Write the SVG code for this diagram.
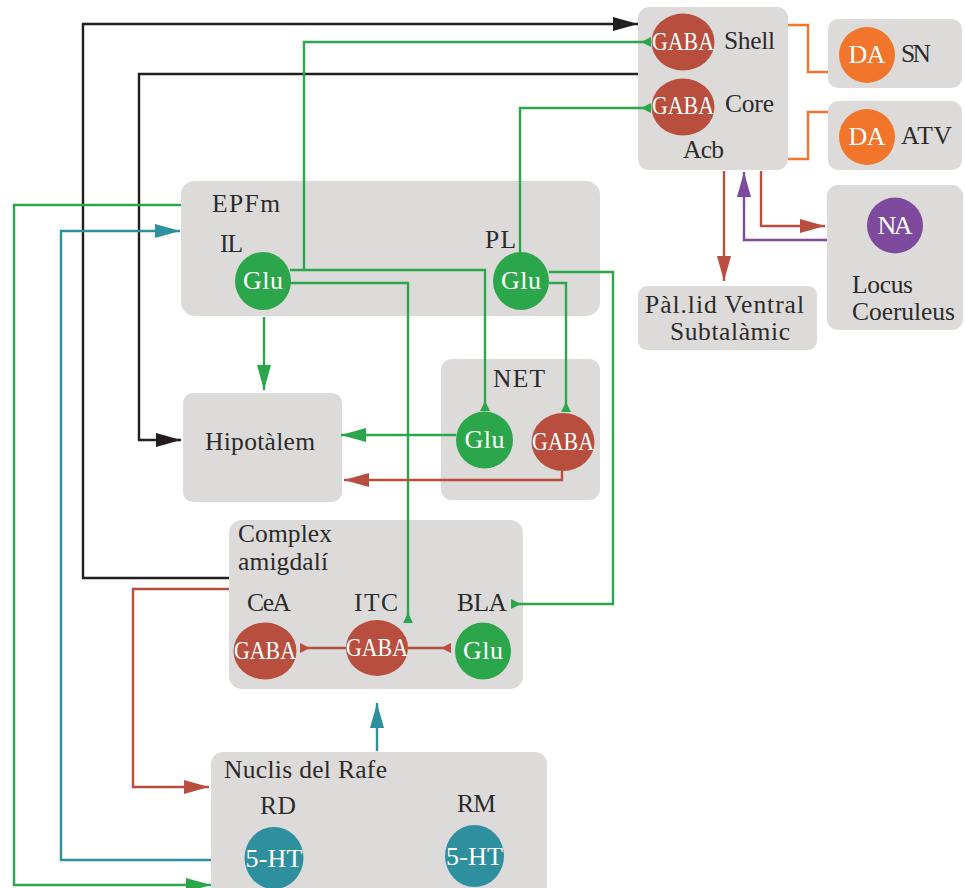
<svg xmlns="http://www.w3.org/2000/svg" width="965" height="888" viewBox="0 0 965 888">
<defs>
<style>
.box{fill:#dddbda}
.lbl{font-family:"Liberation Serif",serif;font-size:25.5px;fill:#2b2b2b}
.ct{font-family:"Liberation Serif",serif;font-size:26px;fill:#ffffff;text-anchor:middle}
.gaba{fill:#b84f3e}
.glu{fill:#2ca64a}
.da{fill:#f1752a}
.na{fill:#7d4a9d}
.ht{fill:#2e909e}
.c{fill:none;stroke-width:2.4}
.k{stroke:#231f20}
.g{stroke:#2ca64a}
.r{stroke:#b84f3e}
.t{stroke:#2e909e}
.o{stroke:#f1752a}
.p{stroke:#7d4a9d}
</style>
<marker id="ak" markerUnits="userSpaceOnUse" markerWidth="30" markerHeight="20" viewBox="-26 -10 30 20" refX="0" refY="0" orient="auto"><polygon points="0,0 -25,-7 -25,7" fill="#231f20"/></marker>
<marker id="ag" markerUnits="userSpaceOnUse" markerWidth="30" markerHeight="20" viewBox="-26 -10 30 20" refX="0" refY="0" orient="auto"><polygon points="0,0 -25,-7 -25,7" fill="#2ca64a"/></marker>
<marker id="ar" markerUnits="userSpaceOnUse" markerWidth="30" markerHeight="20" viewBox="-26 -10 30 20" refX="0" refY="0" orient="auto"><polygon points="0,0 -25,-7 -25,7" fill="#b84f3e"/></marker>
<marker id="at" markerUnits="userSpaceOnUse" markerWidth="30" markerHeight="20" viewBox="-26 -10 30 20" refX="0" refY="0" orient="auto"><polygon points="0,0 -25,-7 -25,7" fill="#2e909e"/></marker>
<marker id="ap" markerUnits="userSpaceOnUse" markerWidth="30" markerHeight="20" viewBox="-26 -10 30 20" refX="0" refY="0" orient="auto"><polygon points="0,0 -25,-7 -25,7" fill="#7d4a9d"/></marker>
<marker id="rg" markerUnits="userSpaceOnUse" markerWidth="14" markerHeight="14" viewBox="-12 -7 14 14" refX="0" refY="0" orient="auto"><polygon points="0,-5 0,5 -10,0" fill="#2ca64a"/></marker>
<marker id="rr" markerUnits="userSpaceOnUse" markerWidth="14" markerHeight="14" viewBox="-12 -7 14 14" refX="0" refY="0" orient="auto"><polygon points="0,-5 0,5 -10,0" fill="#b84f3e"/></marker>
</defs>

<g id="acb">
<rect class="box" x="638" y="7" width="150" height="163" rx="11"/>
<ellipse class="gaba" cx="683" cy="42" rx="31.5" ry="28.5"/>
<text class="ct" x="683" y="50" font-size="23" textLength="62" lengthAdjust="spacingAndGlyphs">GABA</text>
<text class="lbl" x="724" y="49" textLength="51">Shell</text>
<ellipse class="gaba" cx="683" cy="107" rx="31.5" ry="28.5"/>
<text class="ct" x="683" y="114" font-size="23" textLength="62" lengthAdjust="spacingAndGlyphs">GABA</text>
<text class="lbl" x="725" y="112" textLength="49">Core</text>
<text class="lbl" x="683" y="158" textLength="41">Acb</text>
</g>

<g id="sn">
<rect class="box" x="828" y="19" width="134" height="69" rx="10"/>
<circle class="da" cx="867" cy="55" r="28"/>
<text class="ct" x="867" y="63" textLength="37">DA</text>
<text class="lbl" x="901" y="62" textLength="30">SN</text>
</g>

<g id="atv">
<rect class="box" x="828" y="101" width="134" height="69" rx="10"/>
<circle class="da" cx="867" cy="137" r="28"/>
<text class="ct" x="867" y="145" textLength="37">DA</text>
<text class="lbl" x="901" y="144" textLength="51">ATV</text>
</g>

<g id="lc">
<rect class="box" x="827" y="185" width="136" height="145" rx="11"/>
<circle class="na" cx="895" cy="225.5" r="28"/>
<text class="ct" x="895" y="234" textLength="35">NA</text>
<text class="lbl" x="852" y="293" textLength="61">Locus</text>
<text class="lbl" x="852" y="320" textLength="103">Coeruleus</text>
</g>

<g id="pallid">
<rect class="box" x="638" y="286" width="179" height="64" rx="9"/>
<text class="lbl" x="645" y="313" textLength="159">Pàl.lid Ventral</text>
<text class="lbl" x="670" y="340" textLength="120">Subtalàmic</text>
</g>

<g id="epfm">
<rect class="box" x="181" y="181" width="419" height="135" rx="14"/>
<text class="lbl" x="212" y="212" textLength="68">EPFm</text>
<text class="lbl" x="220" y="252" textLength="23">IL</text>
<text class="lbl" x="485" y="248" textLength="31">PL</text>
<ellipse class="glu" cx="263" cy="281" rx="28" ry="29"/>
<text class="ct" x="263" y="289" textLength="40">Glu</text>
<ellipse class="glu" cx="521" cy="281" rx="28" ry="29"/>
<text class="ct" x="521" y="289" textLength="40">Glu</text>
</g>

<g id="hipotalem">
<rect class="box" x="183" y="393" width="159" height="109" rx="10"/>
<text class="lbl" x="205" y="450" textLength="110">Hipotàlem</text>
</g>

<g id="net">
<rect class="box" x="441" y="359" width="159" height="141" rx="11"/>
<text class="lbl" x="493" y="387" textLength="52">NET</text>
<ellipse class="glu" cx="484.5" cy="440" rx="28.5" ry="28.5"/>
<text class="ct" x="484.5" y="448" textLength="40">Glu</text>
<ellipse class="gaba" cx="563" cy="442" rx="31.5" ry="29"/>
<text class="ct" x="563" y="450" font-size="23" textLength="62" lengthAdjust="spacingAndGlyphs">GABA</text>
</g>

<g id="amigdala">
<rect class="box" x="229" y="520" width="294" height="169" rx="13"/>
<text class="lbl" x="238" y="542" textLength="94">Complex</text>
<text class="lbl" x="238" y="570" textLength="90">amigdalí</text>
<text class="lbl" x="247" y="611" textLength="44">CeA</text>
<text class="lbl" x="354" y="611" textLength="44">ITC</text>
<text class="lbl" x="457" y="611" textLength="50">BLA</text>
<ellipse class="gaba" cx="265" cy="651" rx="31.5" ry="28.5"/>
<text class="ct" x="265" y="659" font-size="23" textLength="62" lengthAdjust="spacingAndGlyphs">GABA</text>
<ellipse class="gaba" cx="377" cy="648" rx="31" ry="28"/>
<text class="ct" x="377" y="656" font-size="23" textLength="62" lengthAdjust="spacingAndGlyphs">GABA</text>
<ellipse class="glu" cx="483" cy="651" rx="28" ry="28.5"/>
<text class="ct" x="483" y="659" textLength="40">Glu</text>
</g>

<g id="rafe">
<rect class="box" x="211" y="752" width="336" height="150" rx="12"/>
<text class="lbl" x="224" y="778" textLength="163">Nuclis del Rafe</text>
<text class="lbl" x="260" y="814" textLength="36">RD</text>
<text class="lbl" x="457" y="812" textLength="39">RM</text>
<ellipse class="ht" cx="274" cy="858" rx="29.5" ry="31"/>
<text class="ct" x="274" y="867" textLength="57">5-HT</text>
<ellipse class="ht" cx="474.5" cy="856" rx="29.5" ry="31"/>
<text class="ct" x="474.5" y="865" textLength="57">5-HT</text>
</g>

<g id="connectors">
<path class="c k" d="M229,578 H83 V24 H638" marker-end="url(#ak)"/>
<path class="c k" d="M638,74 H139 V440 H181" marker-end="url(#ak)"/>
<path class="c g" d="M304,270 V42 H651" marker-end="url(#rg)"/>
<path class="c g" d="M290,270 H485 V411" marker-end="url(#rg)"/>
<path class="c g" d="M290,283 H408 V623" marker-end="url(#rg)"/>
<path class="c g" d="M520,253 V108 H651" marker-end="url(#rg)"/>
<path class="c g" d="M549,272 H613 V604 H511" marker-end="url(#rg)"/>
<path class="c g" d="M549,283 H566 V412" marker-end="url(#rg)"/>
<path class="c g" d="M264,317 V390" marker-end="url(#ag)"/>
<path class="c g" d="M456,435 H341" marker-end="url(#ag)"/>
<path class="c r" d="M562,470 V480 H344" marker-end="url(#ar)"/>
<path class="c g" d="M181,205 H14 V885 H211" marker-end="url(#ag)"/>
<path class="c t" d="M211,860 H61 V231 H180" marker-end="url(#at)"/>
<path class="c r" d="M229,589 H133 V787 H209" marker-end="url(#ar)"/>
<path class="c t" d="M377,751 V703" marker-end="url(#at)"/>
<path class="c r" d="M346,648 H300" marker-end="url(#rr)"/>
<path class="c r" d="M408,648 H451" marker-end="url(#rr)"/>
<path class="c o" d="M788,25 H808 V72 H828"/>
<path class="c o" d="M788,159 H808 V112 H828"/>
<path class="c r" d="M724,171 V281" marker-end="url(#ar)"/>
<path class="c r" d="M761,171 V226 H825" marker-end="url(#ar)"/>
<path class="c p" d="M827,240 H744 V172" marker-end="url(#ap)"/>
</g>
</svg>
